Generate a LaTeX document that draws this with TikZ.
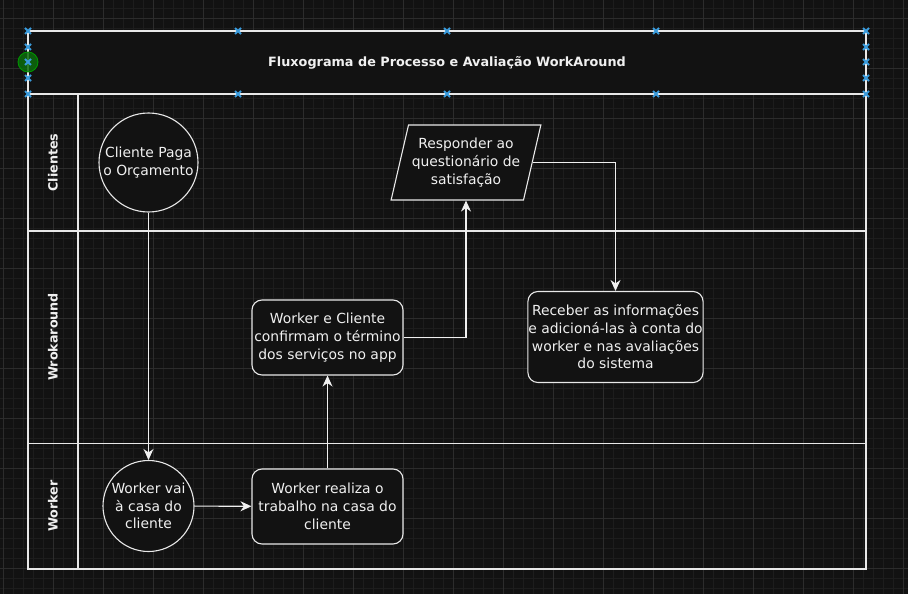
\documentclass[tikz,border=0pt]{standalone}
\usepackage{fontspec}
\setmainfont{DejaVu Sans}
\usetikzlibrary{arrows.meta,shapes.geometric}
\definecolor{bg}{HTML}{121212}
\definecolor{gridminor}{HTML}{1D1D1D}
\definecolor{gridmajor}{HTML}{2C2C2C}
\definecolor{ln}{HTML}{E8E8E8}
\definecolor{txt}{HTML}{F0F0F0}
\definecolor{handle}{HTML}{3A9BDC}
\definecolor{grn}{HTML}{0B6B0B}
\begin{document}
\begin{tikzpicture}[x=1pt,y=-1pt,
  shapebase/.style={draw=ln,fill=bg,line width=1.1pt,text=txt,align=center,inner sep=0.5pt,
     font=\fontsize{13.9}{17.7}\selectfont},
  circ/.style={shapebase,circle},
  rbox/.style={shapebase,rectangle,rounded corners=10pt},
  para/.style={shapebase,trapezium,trapezium left angle=71.57,trapezium right angle=108.43,
     trapezium stretches=true,minimum width=150pt,minimum height=75pt},
  lanelabel/.style={text=txt,rotate=90,font=\bfseries\fontsize{12.7}{16}\selectfont},
  lane/.style={draw=ln,line width=1.1pt},
  arr/.style={draw=txt,line width=1.1pt,-{Stealth[length=11pt,width=10pt,inset=3.5pt]}},
  hdl/.style={draw=handle,line width=1.8pt}]
\useasboundingbox (0,0) rectangle (908,594);
\fill[bg] (0,0) rectangle (908,594);
% grid
\foreach \x in {3,13,...,903} \draw[gridminor,line width=0.6pt] (\x,0) -- (\x,594);
\foreach \y in {8,18,...,588} \draw[gridminor,line width=0.6pt] (0,\y) -- (908,\y);
\foreach \x in {3,53,...,903} \draw[gridmajor,line width=0.8pt] (\x,0) -- (\x,594);
\foreach \y in {18,68,...,568} \draw[gridmajor,line width=0.8pt] (0,\y) -- (908,\y);
% title box
\node[draw=ln,line width=1.1pt,fill=bg,minimum width=838pt,minimum height=63pt,inner sep=0pt,
  text=txt,font=\bfseries\fontsize{12.8}{16}\selectfont] (title) at (447,62.5)
  {Fluxograma de Processo e Avaliação WorkAround};
% pool
\draw[lane] (28,94) rectangle (866,569);
\draw[lane] (78,94) -- (78,569);
\draw[lane] (28,231) -- (866,231);
\draw[lane] (28,443.5) -- (866,443.5);
\node[lanelabel] (l1) at (53,162.5) {Clientes};
\node[lanelabel] (l2) at (53,337) {Wrokaround};
\node[lanelabel] (l3) at (53,506) {Worker};
% nodes
\node[circ,minimum size=99pt] (c1) at (148.5,162.5) {Cliente Paga\\o Orçamento};
\node[circ,minimum size=91pt] (c2) at (148.5,506) {Worker vai\\à casa do\\cliente};
\node[rbox,minimum width=151pt,minimum height=75pt] (r1) at (327.5,506.5) {Worker realiza o\\trabalho na casa do\\cliente};
\node[rbox,minimum width=151pt,minimum height=75pt] (r2) at (327.5,337.5) {Worker e Cliente\\confirmam o término\\dos serviços no app};
\node[para] (p) at (466,162.5) {Responder ao\\questionário de\\satisfação};
\node[rbox,minimum width=175pt,minimum height=91pt] (r3) at (615.5,337) {Receber as informações\\e adicioná-las à conta do\\worker e nas avaliações\\do sistema};
% connectors
\draw[arr] (c1) -- (c2);
\draw[arr] (c2) -- (r1);
\draw[arr] (r1) -- (r2);
\draw[arr] (r2.east) -| (p.south);
\draw[arr] (p.east) -| (r3.north);
% selection handles
\fill[grn,opacity=0.85] (28,62) circle (10pt);
\draw[green!60!black,line width=0.8pt] (28,62) circle (10pt);
\foreach \hx/\hy in {28/31,238/31,447/31,656/31,866/31,28/94,238/94,447/94,656/94,866/94,
  28/47,28/62,28/78,866/47,866/62,866/78}
  { \draw[hdl] (\hx-3,\hy-3) -- (\hx+3,\hy+3);
    \draw[hdl] (\hx-3,\hy+3) -- (\hx+3,\hy-3); }
\end{tikzpicture}
\end{document}
